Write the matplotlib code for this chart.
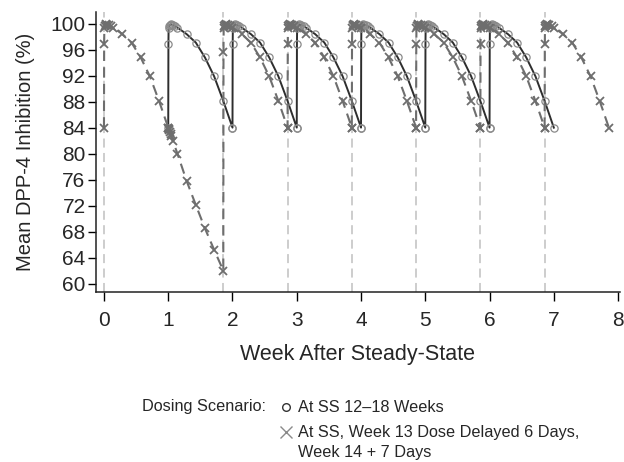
import matplotlib
matplotlib.use("Agg")
import matplotlib.pyplot as plt
from matplotlib.lines import Line2D

plt.rcParams['font.family'] = ['Liberation Sans', 'DejaVu Sans']

# one dosing interval: days after dose -> % inhibition
post_days = [0.02, 0.04, 0.08, 0.17, 0.25, 0.33, 0.5, 0.75, 1, 2, 3, 4, 5, 6, 7]
post_pct = [96.8, 99.3, 99.6, 99.8, 99.9, 99.8, 99.8, 99.6, 99.4, 98.4, 97.1, 94.8, 91.9, 88.1, 84.0]

# scenario 1: on-time weekly doses (weeks after steady state)
ontime_doses = [1, 2, 3, 4, 5, 6]
ontime_trough = [84.0, 84.0, 84.0, 84.0, 84.0, 84.0]

# scenario 2: week 13 dose delayed 6 days
delayed_doses = [0, 1.857, 2.857, 3.857, 4.857, 5.857, 6.857]
delayed_trough = [84.0, 62.0, 84.0, 84.0, 84.0, 84.0, 84.0]
delayed_peak = [96.8, 95.7, 96.8, 96.8, 96.8, 96.8, 96.8]
# decay during the missed dose (between week 1 and the late dose)
missed_wk = [1.003, 1.006, 1.012, 1.024, 1.036, 1.048, 1.071, 1.143, 1.286, 1.429, 1.571, 1.714]
missed_pct = [83.9, 83.8, 83.6, 83.3, 83.0, 82.7, 82.0, 80.0, 75.8, 72.1, 68.5, 65.2]

x_ticks = [0, 1, 2, 3, 4, 5, 6, 7, 8]
y_ticks = [60, 64, 68, 72, 76, 80, 84, 88, 92, 96, 100]

# build the two series
x1 = []; y1 = []
for d, tr in zip(ontime_doses, ontime_trough):
    x1 += [d] + [d + t / 7 for t in post_days]
    y1 += [tr] + post_pct

x2 = []; y2 = []
for i, (d, tr) in enumerate(zip(delayed_doses, delayed_trough)):
    x2 += [d] + [d + t / 7 for t in post_days]
    y2 += [tr] + [delayed_peak[i]] + post_pct[1:]
    if i == 0:
        x2 += missed_wk
        y2 += missed_pct

txt = "#262626"
fig = plt.figure(figsize=(6.24, 4.62), dpi=100)
ax = fig.add_axes([96 / 624, 1 - 292 / 462, 524 / 624, 280 / 462])

for d in delayed_doses:  # light reference lines at the delayed dose times
    ax.axvline(d, color="#c9c9c9", lw=1.3, ls=(0, (5, 3)), zorder=1)

ax.plot(x1, y1, color="#2e2e2e", lw=1.4, marker="o", ms=5.2, mfc="none",
        mec="#8a8a8a", mew=0.9, zorder=3)
ax.plot(x2, y2, color="#6e6e6e", lw=1.5, ls=(0, (5, 3)), marker="x", ms=6.3,
        mec="#6e6e6e", mew=1.3, zorder=4)

ax.set_xlim(-0.124, 8.03)
ax.set_ylim(58.7, 101.8)
ax.set_xticks(x_ticks)
ax.set_yticks(y_ticks)
ax.spines["top"].set_visible(False)
ax.spines["right"].set_visible(False)
for s in ["left", "bottom"]:
    ax.spines[s].set_linewidth(1.1)
    ax.spines[s].set_color("#222222")
ax.tick_params(axis="y", length=6, width=1, pad=1.5, labelsize=15, labelcolor=txt)
ax.tick_params(axis="x", length=6.5, width=1, pad=7, labelsize=15, labelcolor=txt)
ax.set_xlabel("Week After Steady-State", fontsize=15.5, labelpad=10, color=txt)
ax.set_ylabel("Mean DPP-4 Inhibition (%)", fontsize=14.5, labelpad=11, color=txt)

# legend below the axes
fs = 11.7
fig.text(142 / 624, 1 - 407 / 462, "Dosing Scenario:", fontsize=fs, va="center", color=txt)
fig.add_artist(Line2D([286 / 624], [1 - 407 / 462], marker="o", ms=5.5, mfc="none",
                      mec="#333333", mew=1.0, transform=fig.transFigure))
fig.text(298 / 624, 1 - 407 / 462, "At SS 12\u201318 Weeks", fontsize=fs, va="center", color=txt)
fig.add_artist(Line2D([286 / 624], [1 - 432 / 462], marker="x", ms=9, mec="#8a8a8a",
                      mew=1.0, transform=fig.transFigure))
fig.text(298 / 624, 1 - 432 / 462, "At SS, Week 13 Dose Delayed 6 Days,", fontsize=fs,
         va="center", color=txt)
fig.text(298 / 624, 1 - 453 / 462, "Week 14 + 7 Days", fontsize=fs, va="center", color=txt)

fig.savefig("out.png", dpi=100)
